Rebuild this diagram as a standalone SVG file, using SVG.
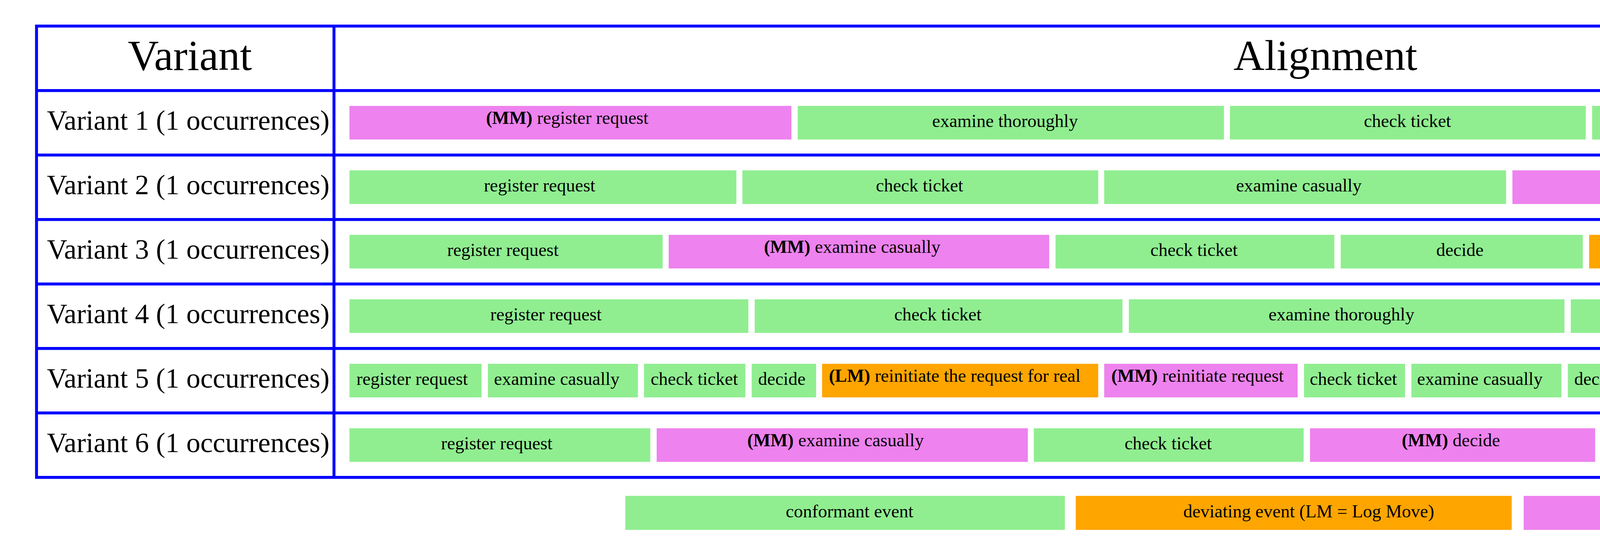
<svg xmlns="http://www.w3.org/2000/svg" width="6008" height="1428" viewBox="0 0 6008 1428">
<style>
text{font-family:"Liberation Serif","Times New Roman",serif;fill:#000;text-anchor:middle}
.hd{font-size:110px}
.vl{font-size:71.8px}
.ev{font-size:46.5px}
.b{font-weight:bold}
.g{fill:#90EE90}
.m{fill:#EE82EE}
.o{fill:#FFA500}
.grid{fill:none;stroke:#0000FF;stroke-width:7.5}
</style>
<rect width="6008" height="1428" fill="#fff"/>
<g id="table-grid" class="grid">
<rect x="93.5" y="66.7" width="5811.9" height="1155"/>
<line x1="855" y1="66.7" x2="855" y2="1221.7"/>
<line x1="93.5" y1="231.7" x2="5905.4" y2="231.7"/>
<line x1="93.5" y1="396.7" x2="5905.4" y2="396.7"/>
<line x1="93.5" y1="561.7" x2="5905.4" y2="561.7"/>
<line x1="93.5" y1="726.7" x2="5905.4" y2="726.7"/>
<line x1="93.5" y1="891.7" x2="5905.4" y2="891.7"/>
<line x1="93.5" y1="1056.7" x2="5905.4" y2="1056.7"/>
</g>
<g id="headers">
<text class="hd" x="486" y="179">Variant</text>
<text class="hd" x="3393" y="179">Alignment</text>
</g>
<g id="variant-labels">
<text class="vl" x="482" y="332">Variant 1 (1 occurrences)</text>
<text class="vl" x="482" y="497">Variant 2 (1 occurrences)</text>
<text class="vl" x="482" y="662">Variant 3 (1 occurrences)</text>
<text class="vl" x="482" y="827">Variant 4 (1 occurrences)</text>
<text class="vl" x="482" y="992">Variant 5 (1 occurrences)</text>
<text class="vl" x="482" y="1157">Variant 6 (1 occurrences)</text>
</g>
<g id="variant1">
<g id="v1e1"><rect class="m" x="894.6" y="271" width="1131.4" height="86"/><text class="ev" x="1452.2" y="317"><tspan class="b">(MM)</tspan> register request</text></g>
<g id="v1e2"><rect class="g" x="2042.2" y="271" width="1091.1" height="86"/><text class="ev" x="2572.9" y="325">examine thoroughly</text></g>
<g id="v1e3"><rect class="g" x="3148.6" y="271" width="911" height="86"/><text class="ev" x="3603.1" y="325">check ticket</text></g>
<g id="v1e4"><rect class="g" x="4075.8" y="271" width="816.2" height="86"/><text class="ev" x="4479.6" y="325">decide</text></g>
<g id="v1e5"><rect class="g" x="4908.3" y="271" width="957.7" height="86"/><text class="ev" x="5376.7" y="325">reject request</text></g>
</g>
<g id="variant2">
<g id="v2e1"><rect class="g" x="894.6" y="436" width="990.5" height="86"/><text class="ev" x="1381.3" y="490">register request</text></g>
<g id="v2e2"><rect class="g" x="1900.5" y="436" width="910.9" height="86"/><text class="ev" x="2354" y="490">check ticket</text></g>
<g id="v2e3"><rect class="g" x="2826.7" y="436" width="1028.8" height="86"/><text class="ev" x="3324.9" y="490">examine casually</text></g>
<g id="v2e4"><rect class="m" x="3871.8" y="436" width="942.6" height="86"/><text class="ev" x="4337.3" y="482"><tspan class="b">(MM)</tspan> decide</text></g>
<g id="v2e5"><rect class="g" x="4829.8" y="436" width="1036.2" height="86"/><text class="ev" x="5337.4" y="490">pay compensation</text></g>
</g>
<g id="variant3">
<g id="v3e1"><rect class="g" x="894.6" y="601" width="801.8" height="86"/><text class="ev" x="1287.4" y="655">register request</text></g>
<g id="v3e2"><rect class="m" x="1711.8" y="601" width="974.1" height="86"/><text class="ev" x="2181.6" y="647"><tspan class="b">(MM)</tspan> examine casually</text></g>
<g id="v3e3"><rect class="g" x="2702.2" y="601" width="713.7" height="86"/><text class="ev" x="3056.7" y="655">check ticket</text></g>
<g id="v3e4"><rect class="g" x="3432.2" y="601" width="619.7" height="86"/><text class="ev" x="3737.3" y="655">decide</text></g>
<g id="v3e5"><rect class="o" x="4068.2" y="601" width="934" height="86"/><text class="ev" x="4527" y="647"><tspan class="b">(LM)</tspan> reinitiate request</text></g>
<g id="v3e6"><rect class="g" x="5018.5" y="601" width="847.5" height="86"/><text class="ev" x="5430.8" y="655">pay compensation</text></g>
</g>
<g id="variant4">
<g id="v4e1"><rect class="g" x="894.6" y="766" width="1021.2" height="86"/><text class="ev" x="1397.6" y="820">register request</text></g>
<g id="v4e2"><rect class="g" x="1932.1" y="766" width="941.5" height="86"/><text class="ev" x="2401" y="820">check ticket</text></g>
<g id="v4e3"><rect class="g" x="2889.9" y="766" width="1115.1" height="86"/><text class="ev" x="3434.1" y="820">examine thoroughly</text></g>
<g id="v4e4"><rect class="g" x="4021.2" y="766" width="847.8" height="86"/><text class="ev" x="4439.4" y="820">decide</text></g>
<g id="v4e5"><rect class="g" x="4885.3" y="766" width="980.7" height="86"/><text class="ev" x="5364.3" y="820">reject request</text></g>
</g>
<g id="variant5">
<g id="v5e1"><rect class="g" x="894.6" y="931" width="338.2" height="86"/><text class="ev" x="1055.1" y="985">register request</text></g>
<g id="v5e2"><rect class="g" x="1249" y="931" width="384.2" height="86"/><text class="ev" x="1425.3" y="985">examine casually</text></g>
<g id="v5e3"><rect class="g" x="1648.6" y="931" width="259.5" height="86"/><text class="ev" x="1777.4" y="985">check ticket</text></g>
<g id="v5e4"><rect class="g" x="1924.4" y="931" width="164.8" height="86"/><text class="ev" x="2001.5" y="985">decide</text></g>
<g id="v5e5"><rect class="o" x="2104.5" y="931" width="706.9" height="86"/><text class="ev" x="2444" y="977"><tspan class="b">(LM)</tspan> reinitiate the request for real</text></g>
<g id="v5e6"><rect class="m" x="2826.7" y="931" width="495.3" height="86"/><text class="ev" x="3065.7" y="977"><tspan class="b">(MM)</tspan> reinitiate request</text></g>
<g id="v5e7"><rect class="g" x="3338.3" y="931" width="258.6" height="86"/><text class="ev" x="3464.7" y="985">check ticket</text></g>
<g id="v5e8"><rect class="g" x="3613.2" y="931" width="384.1" height="86"/><text class="ev" x="3788.5" y="985">examine casually</text></g>
<g id="v5e9"><rect class="g" x="4013.6" y="931" width="164.7" height="86"/><text class="ev" x="4090.7" y="985">decide</text></g>
<g id="v5e10"><rect class="m" x="4193.7" y="931" width="494.3" height="86"/><text class="ev" x="4432.7" y="977"><tspan class="b">(MM)</tspan> reinitiate request</text></g>
<g id="v5e11"><rect class="g" x="4704.3" y="931" width="385" height="86"/><text class="ev" x="4880" y="985">examine casually</text></g>
<g id="v5e12"><rect class="g" x="5104.7" y="931" width="259.5" height="86"/><text class="ev" x="5232" y="985">check ticket</text></g>
<g id="v5e13"><rect class="g" x="5379.6" y="931" width="164.7" height="86"/><text class="ev" x="5456.7" y="985">decide</text></g>
<g id="v5e14"><rect class="g" x="5559.6" y="931" width="306.4" height="86"/><text class="ev" x="5702.4" y="985">reject request</text></g>
</g>
<g id="variant6">
<g id="v6e1"><rect class="g" x="894.6" y="1096" width="770.2" height="86"/><text class="ev" x="1271.6" y="1150">register request</text></g>
<g id="v6e2"><rect class="m" x="1681.1" y="1096" width="950.2" height="86"/><text class="ev" x="2139" y="1142"><tspan class="b">(MM)</tspan> examine casually</text></g>
<g id="v6e3"><rect class="g" x="2646.6" y="1096" width="690.7" height="86"/><text class="ev" x="2990.6" y="1150">check ticket</text></g>
<g id="v6e4"><rect class="m" x="3353.6" y="1096" width="729.9" height="86"/><text class="ev" x="3714.3" y="1142"><tspan class="b">(MM)</tspan> decide</text></g>
<g id="v6e5"><rect class="o" x="4099.8" y="1096" width="926.3" height="86"/><text class="ev" x="4554.8" y="1142"><tspan class="b">(LM)</tspan> decide something</text></g>
<g id="v6e6"><rect class="g" x="5042.4" y="1096" width="823.6" height="86"/><text class="ev" x="5443.3" y="1150">pay compensation</text></g>
</g>
<g id="legend">
<g id="leg-conformant"><rect class="g" x="1600.7" y="1269" width="1125.4" height="87"/><text class="ev" x="2174.9" y="1324">conformant event</text></g>
<g id="leg-deviating"><rect class="o" x="2753.9" y="1269" width="1116" height="87"/><text class="ev" x="3350.3" y="1324">deviating event (LM = Log Move)</text></g>
<g id="leg-missing"><rect class="m" x="3900.6" y="1269" width="1131.3" height="87"/><text class="ev" x="4470.5" y="1324">missing event (MM = Model Move)</text></g>
</g>
<g id="connectors"/>
</svg>
